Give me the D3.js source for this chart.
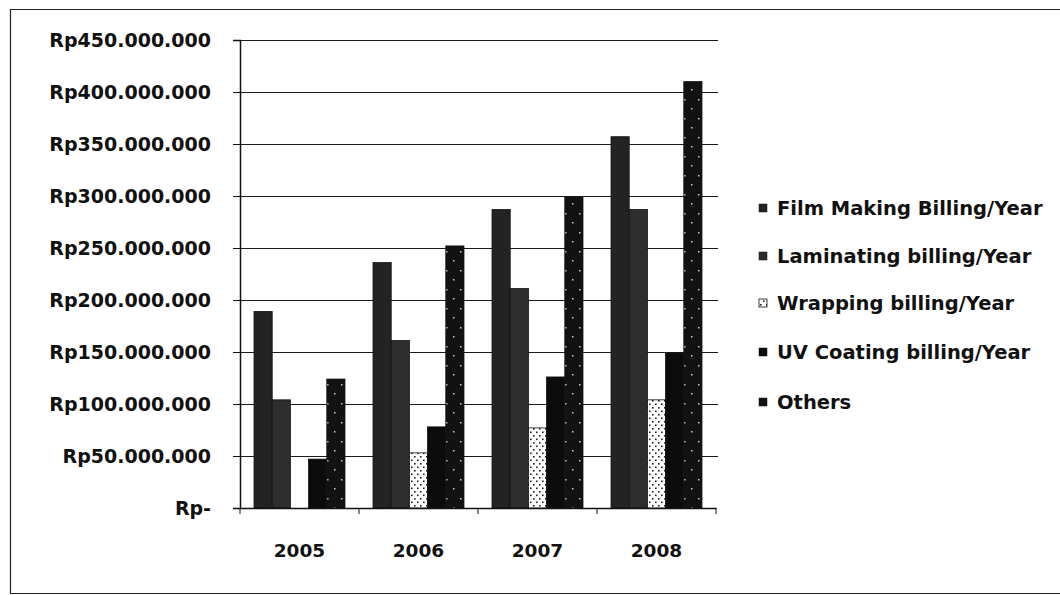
<!DOCTYPE html>
<html>
<head>
<meta charset="utf-8">
<script src="https://cdn.jsdelivr.net/npm/d3@7.9.0/dist/d3.min.js"></script>
<style>
  body { margin: 0; background: #fff; }
  svg { display: block; }
  text { font-family: "DejaVu Sans", sans-serif; font-weight: bold; fill: #111; }
</style>
</head>
<body>
<svg id="chart" width="1060" height="595"></svg>
<script>
// Data
const years = ['2005', '2006', '2007', '2008'];
const seriesNames = [
  'Film Making Billing/Year',
  'Laminating billing/Year',
  'Wrapping billing/Year',
  'UV Coating billing/Year',
  'Others'
];
const filmMaking = [189e6, 236e6, 287e6, 357e6];
const laminating = [104e6, 161e6, 211e6, 287e6];
const wrapping   = [0, 53e6, 77e6, 104e6];
const uvCoating  = [47e6, 78e6, 126e6, 149e6];
const others     = [124e6, 252e6, 299e6, 410e6];
const yTicks = [0, 50e6, 100e6, 150e6, 200e6, 250e6, 300e6, 350e6, 400e6, 450e6];

const seriesValues = [filmMaking, laminating, wrapping, uvCoating, others];
const fills = ['#232323', '#2d2d2d', 'url(#dotsLight)', '#0b0b0b', 'url(#dotsDark)'];

const svg = d3.select('#chart');

// patterns
const defs = svg.append('defs');
const pl = defs.append('pattern').attr('id', 'dotsLight')
  .attr('width', 6).attr('height', 7).attr('patternUnits', 'userSpaceOnUse');
pl.append('rect').attr('width', 6).attr('height', 7).attr('fill', '#fff');
pl.append('rect').attr('x', 1).attr('y', 1).attr('width', 1.6).attr('height', 1.6).attr('fill', '#222');
pl.append('rect').attr('x', 4).attr('y', 4.5).attr('width', 1.6).attr('height', 1.6).attr('fill', '#222');
const pd = defs.append('pattern').attr('id', 'dotsDark')
  .attr('width', 14).attr('height', 19).attr('patternUnits', 'userSpaceOnUse');
pd.append('rect').attr('width', 14).attr('height', 19).attr('fill', '#121212');
pd.append('rect').attr('x', 3).attr('y', 4).attr('width', 1.5).attr('height', 1.5).attr('fill', '#ccc');
pd.append('rect').attr('x', 10).attr('y', 13).attr('width', 1.5).attr('height', 1.5).attr('fill', '#ccc');

// outer frame (top, left, bottom)
svg.append('path')
  .attr('d', 'M1060,9.5 H10.5 V593.5 H1060')
  .attr('fill', 'none').attr('stroke', '#222').attr('stroke-width', 1.2);

const plot = { left: 240, right: 716, top: 40, bottom: 508 };

const y = d3.scaleLinear().domain([0, 450e6]).range([plot.bottom, plot.top]);
const x0 = d3.scaleBand().domain(years).range([plot.left, plot.right]);
const x1 = d3.scaleBand().domain(seriesNames).range([0, x0.bandwidth()]).paddingOuter(0.77);

// gridlines
svg.append('g').selectAll('line').data(yTicks.slice(1)).join('line')
  .attr('x1', plot.left).attr('x2', plot.right + 2)
  .attr('y1', d => Math.round(y(d)) + 0.5).attr('y2', d => Math.round(y(d)) + 0.5)
  .attr('stroke', '#1a1a1a').attr('stroke-width', 1);

// bars
const groups = svg.append('g').selectAll('g').data(years).join('g')
  .attr('transform', d => `translate(${x0(d)},0)`);
groups.selectAll('rect')
  .data((yr, i) => seriesNames.map((s, j) => ({ s, j, v: seriesValues[j][i] })))
  .join('rect')
  .attr('x', d => x1(d.s))
  .attr('width', x1.bandwidth())
  .attr('y', d => y(d.v))
  .attr('height', d => y(0) - y(d.v))
  .attr('fill', d => fills[d.j])
  .attr('stroke', d => d.v > 0 ? '#111' : 'none')
  .attr('stroke-width', 0.8);

// y axis
const fmt = v => v === 0 ? 'Rp-' : 'Rp' + d3.format(',')(v).replace(/,/g, '.');
const yAxis = svg.append('g')
  .attr('transform', `translate(${plot.left},0)`)
  .call(d3.axisLeft(y).tickValues(yTicks).tickSize(7).tickPadding(22).tickFormat(fmt));
yAxis.select('.domain').attr('stroke', '#111').attr('stroke-width', 1.5);
yAxis.selectAll('.tick line').attr('stroke', '#111');
yAxis.selectAll('text').attr('font-size', 19).attr('fill', '#111')
  .style('font-family', '"DejaVu Sans", sans-serif').style('font-weight', 'bold');

// x axis
const xAxis = svg.append('g')
  .attr('transform', `translate(0,${plot.bottom})`)
  .call(d3.axisBottom(x0).tickSize(0).tickPadding(36));
xAxis.select('.domain').attr('stroke', '#111').attr('stroke-width', 1.5);
xAxis.selectAll('text').attr('font-size', 18.5).attr('fill', '#111')
  .style('font-family', '"DejaVu Sans", sans-serif').style('font-weight', 'bold');
// category boundary ticks
xAxis.append('g').selectAll('line').data(years.concat(['end'])).join('line')
  .attr('x1', (d, i) => plot.left + i * x0.step()).attr('x2', (d, i) => plot.left + i * x0.step())
  .attr('y1', 0).attr('y2', 6).attr('stroke', '#111');

// legend
const legendY = [208, 256, 303, 352, 402];
const legend = svg.append('g').selectAll('g').data(seriesNames).join('g')
  .attr('transform', (d, i) => `translate(759,${legendY[i]})`);
legend.append('rect')
  .attr('x', 0).attr('y', -4).attr('width', 8).attr('height', 8)
  .attr('fill', (d, i) => fills[i])
  .attr('stroke', '#111').attr('stroke-width', (d, i) => i === 2 ? 0.8 : 0.5);
legend.append('text')
  .attr('x', 18).attr('dy', '0.36em')
  .attr('font-size', 19.5)
  .text(d => d);
</script>
</body>
</html>
